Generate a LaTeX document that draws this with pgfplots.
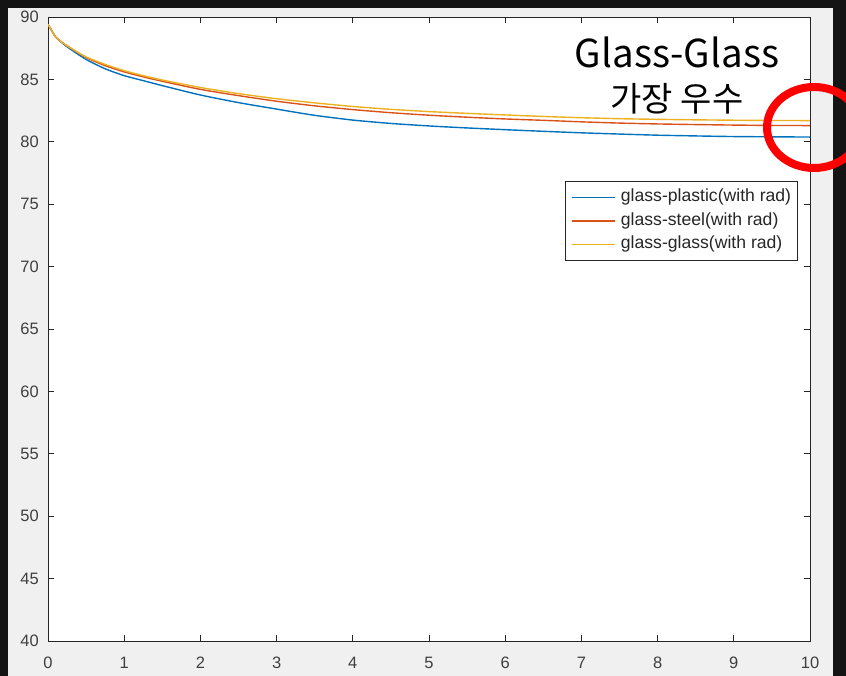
\documentclass[border=0pt]{standalone}
\usepackage{fontspec}
\setmainfont{Liberation Sans}
\newfontfamily\kr{Noto Sans CJK KR}
\usepackage{pgfplots}
\pgfplotsset{compat=1.18}
\definecolor{mblue}{RGB}{0,114,189}
\definecolor{mred}{RGB}{217,83,25}
\definecolor{myellow}{RGB}{237,177,32}
\definecolor{darkbg}{RGB}{20,20,20}
\definecolor{panel}{RGB}{240,240,240}
\definecolor{axc}{RGB}{38,38,38}
\definecolor{tickc}{RGB}{64,64,64}
\begin{document}
\begin{tikzpicture}[x=1pt,y=1pt]
\useasboundingbox (0,0) rectangle (846,676);
\fill[darkbg] (0,0) rectangle (846,676);
\fill[panel] (8,0) rectangle (833,668);
\begin{axis}[
  at={(48pt,35pt)}, anchor=south west,
  scale only axis, width=762pt, height=624pt,
  xmin=0, xmax=10, ymin=40, ymax=90,
  xtick={0,1,...,10}, ytick={40,45,...,90},
  axis background/.style={fill=white},
  axis line style={axc, line width=0.9pt},
  every tick/.style={axc, line width=0.9pt},
  tick align=inside, major tick length=6pt,
  /pgf/number format/assume math mode=true,
  tick label style={font=\fontsize{16.5}{18}\selectfont, text=tickc},
  xticklabel style={anchor=base, yshift=-28pt},
  yticklabel style={anchor=east, inner sep=0pt, xshift=-9pt},
  legend cell align=left,
  legend image code/.code={\draw[#1, line width=1.6pt] (0pt,0pt) -- (43pt,0pt);},
  legend style={at={(0.9843,0.7372)}, anchor=north east, draw=axc, line width=0.8pt, fill=white,
    font=\fontsize{17.6}{18}\selectfont, text=axc, inner xsep=5pt, inner ysep=6.5pt, row sep=4pt,
    column sep=4pt,
    nodes={inner sep=1.5pt, text height=12.5pt, text depth=4pt}},
]
\addplot[mblue, line width=1.4pt, smooth, tension=0.4] coordinates {
(0,89.4) (0.05,88.9) (0.1,88.4) (0.2,87.85) (0.3,87.4) (0.5,86.6) (0.75,85.85) (1,85.3) (1.25,84.9) (1.5,84.5) (2,83.75) (2.5,83.14) (3,82.62) (3.5,82.12) (4,81.74) (4.5,81.47) (5,81.27) (5.5,81.11) (6,80.97) (6.5,80.84) (7,80.72) (7.5,80.62) (8,80.53) (8.5,80.47) (9,80.42) (9.5,80.4) (10,80.38)};
\addlegendentry{glass-plastic(with rad)}
\addplot[mred, line width=1.4pt, smooth, tension=0.4] coordinates {
(0,89.4) (0.05,88.9) (0.1,88.4) (0.2,87.9) (0.3,87.5) (0.5,86.75) (0.75,86.1) (1,85.6) (1.25,85.2) (1.5,84.85) (2,84.2) (2.5,83.7) (3,83.25) (3.5,82.88) (4,82.58) (4.5,82.33) (5,82.13) (5.5,81.97) (6,81.83) (6.5,81.72) (7,81.6) (7.5,81.5) (8,81.43) (8.5,81.38) (9,81.34) (9.5,81.31) (10,81.3)};
\addlegendentry{glass-steel(with rad)}
\addplot[myellow, line width=1.4pt, smooth, tension=0.4] coordinates {
(0,89.4) (0.05,88.9) (0.1,88.4) (0.2,87.9) (0.3,87.5) (0.5,86.8) (0.75,86.2) (1,85.7) (1.25,85.3) (1.5,84.95) (2,84.35) (2.5,83.86) (3,83.45) (3.5,83.12) (4,82.83) (4.5,82.6) (5,82.42) (5.5,82.28) (6,82.15) (6.5,82.03) (7,81.93) (7.5,81.85) (8,81.8) (8.5,81.76) (9,81.73) (9.5,81.71) (10,81.7)};
\addlegendentry{glass-glass(with rad)}
\end{axis}
\node[anchor=base, inner sep=0pt, font=\kr\fontsize{38.5}{40}\selectfont] at (677,608) {Glass-Glass};
\node[anchor=base, inner sep=0pt, font=\kr\fontsize{34}{40}\selectfont] at (677,564) {가장 우수};
\begin{scope}
\clip (0,0) rectangle (846,676);
\draw[red, line width=8pt] (814,548.5) ellipse [x radius=47, y radius=40.5];
\end{scope}
\end{tikzpicture}
\end{document}
